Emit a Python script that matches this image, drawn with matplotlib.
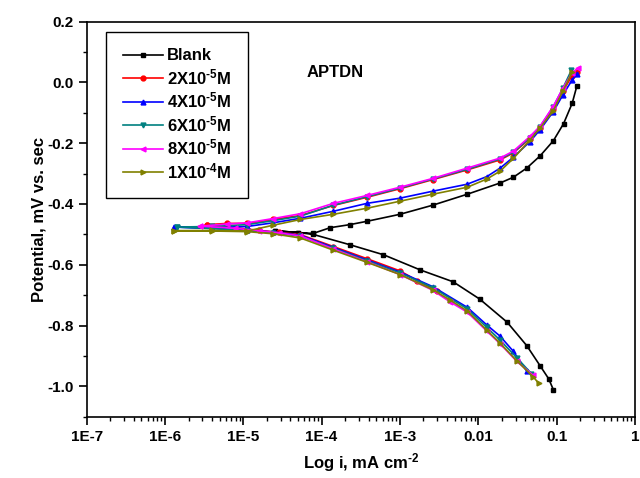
import matplotlib
matplotlib.use('Agg')
import matplotlib.pyplot as plt
import numpy as np
from matplotlib.ticker import MultipleLocator, FixedLocator, FixedFormatter, LogLocator, NullFormatter

plt.rcParams['font.family'] = ['Liberation Sans', 'DejaVu Sans']
plt.rcParams['font.weight'] = 'bold'
plt.rcParams['mathtext.fontset'] = 'custom'
plt.rcParams['mathtext.rm'] = 'Liberation Sans:bold'
plt.rcParams['mathtext.bf'] = 'Liberation Sans:bold'
plt.rcParams['mathtext.it'] = 'Liberation Sans:bold:italic'
plt.rcParams['mathtext.default'] = 'bf'

# --- Datos (log10 i, E) ---
# Blank
blank_an_log = [-4.60, -4.30, -4.11, -3.89, -3.64, -3.42, -3.00, -2.58, -2.14, -1.72, -1.55, -1.38, -1.21, -1.04, -0.91, -0.80, -0.74]
blank_an_E = [-0.488, -0.494, -0.497, -0.478, -0.468, -0.457, -0.434, -0.404, -0.368, -0.331, -0.312, -0.282, -0.242, -0.192, -0.136, -0.069, -0.012]
blank_ca_log = [-4.60, -4.30, -4.11, -3.64, -3.21, -2.74, -2.32, -1.98, -1.63, -1.38, -1.21, -1.10, -1.04]
blank_ca_E = [-0.488, -0.494, -0.500, -0.534, -0.567, -0.617, -0.656, -0.713, -0.789, -0.866, -0.932, -0.975, -1.011]

# 2X10-5 M
c2_an_log = [-5.46, -5.21, -4.95, -4.62, -4.27, -3.85, -3.42, -3.00, -2.58, -2.14, -1.72, -1.55, -1.34, -1.21, -1.04, -0.92, -0.80, -0.74]
c2_an_E = [-0.468, -0.464, -0.464, -0.451, -0.438, -0.405, -0.378, -0.350, -0.320, -0.288, -0.255, -0.232, -0.185, -0.150, -0.087, -0.030, 0.022, 0.035]
c2_ca_log = [-5.46, -5.10, -4.80, -4.55, -4.27, -3.85, -3.42, -3.00, -2.78, -2.53]
c2_ca_E = [-0.468, -0.478, -0.487, -0.493, -0.501, -0.540, -0.580, -0.620, -0.652, -0.686]

# 4X10-5 M
c4_an_log = [-5.89, -5.40, -4.95, -4.62, -4.27, -3.85, -3.42, -3.00, -2.58, -2.14, -1.89, -1.72, -1.55, -1.34, -1.21, -1.04, -0.92, -0.80, -0.74]
c4_an_E = [-0.476, -0.478, -0.474, -0.462, -0.447, -0.424, -0.398, -0.381, -0.358, -0.335, -0.310, -0.282, -0.246, -0.195, -0.156, -0.096, -0.042, 0.008, 0.028]
c4_ca_log = [-5.89, -5.40, -4.95, -4.62, -4.27, -3.85, -3.42, -3.00, -2.58, -2.14, -1.89, -1.72, -1.55, -1.38]
c4_ca_E = [-0.476, -0.480, -0.486, -0.492, -0.503, -0.543, -0.584, -0.624, -0.672, -0.740, -0.798, -0.835, -0.885, -0.950]

# 6X10-5 M
c6_an_log = [-5.85, -5.40, -4.95, -4.62, -4.27, -3.85, -3.42, -3.00, -2.58, -2.14, -1.72, -1.55, -1.34, -1.21, -1.04, -0.92, -0.81]
c6_an_E = [-0.476, -0.474, -0.468, -0.455, -0.440, -0.404, -0.376, -0.348, -0.318, -0.286, -0.252, -0.230, -0.182, -0.146, -0.080, -0.020, 0.040]
c6_ca_log = [-5.85, -5.40, -4.95, -4.62, -4.27, -3.85, -3.42, -3.00, -2.58, -2.14, -1.89, -1.72, -1.51, -1.32]
c6_ca_E = [-0.476, -0.481, -0.488, -0.495, -0.506, -0.546, -0.587, -0.627, -0.675, -0.745, -0.806, -0.848, -0.905, -0.958]

# 8X10-5 M
c8_an_log = [-5.55, -5.21, -4.95, -4.62, -4.27, -3.85, -3.42, -3.00, -2.58, -2.14, -1.72, -1.55, -1.34, -1.21, -1.04, -0.92, -0.80, -0.72]
c8_an_E = [-0.473, -0.466, -0.462, -0.448, -0.432, -0.398, -0.372, -0.345, -0.316, -0.282, -0.249, -0.226, -0.178, -0.144, -0.078, -0.020, 0.032, 0.048]
c8_ca_log = [-5.55, -5.10, -4.80, -4.55, -4.27, -3.85, -3.42, -3.00, -2.58, -2.36, -2.14, -1.89, -1.72, -1.51, -1.30]
c8_ca_E = [-0.473, -0.480, -0.488, -0.495, -0.505, -0.548, -0.590, -0.632, -0.684, -0.722, -0.756, -0.818, -0.860, -0.917, -0.963]

# 1X10-4 M
c10_an_log = [-5.89, -5.40, -4.95, -4.62, -4.27, -3.85, -3.42, -3.00, -2.58, -2.14, -1.89, -1.72, -1.55, -1.34, -1.21, -1.04, -0.92, -0.80]
c10_an_E = [-0.488, -0.487, -0.489, -0.470, -0.451, -0.434, -0.414, -0.391, -0.368, -0.345, -0.318, -0.292, -0.250, -0.190, -0.150, -0.093, -0.030, 0.034]
c10_ca_log = [-5.89, -5.40, -4.95, -4.62, -4.27, -3.85, -3.42, -3.00, -2.58, -2.36, -2.14, -1.89, -1.72, -1.51, -1.30, -1.23]
c10_ca_E = [-0.488, -0.489, -0.491, -0.498, -0.512, -0.552, -0.592, -0.632, -0.682, -0.716, -0.752, -0.815, -0.858, -0.915, -0.968, -0.989]

etiquetas = ['Blank', r'2X10$^{\text{-5}}$M', r'4X10$^{\text{-5}}$M', r'6X10$^{\text{-5}}$M',
             r'8X10$^{\text{-5}}$M', r'1X10$^{\text{-4}}$M']
colores = ['black', '#FF0000', '#0000FF', '#008080', '#FF00FF', '#808000']
marcadores = ['s', 'o', '^', 'v', '<', '>']

series = [
    (blank_an_log, blank_an_E, blank_ca_log, blank_ca_E),
    (c2_an_log, c2_an_E, c2_ca_log, c2_ca_E),
    (c4_an_log, c4_an_E, c4_ca_log, c4_ca_E),
    (c6_an_log, c6_an_E, c6_ca_log, c6_ca_E),
    (c8_an_log, c8_an_E, c8_ca_log, c8_ca_E),
    (c10_an_log, c10_an_E, c10_ca_log, c10_ca_E),
]

fig = plt.figure(figsize=(6.4, 4.78), dpi=100)
ax = fig.add_axes([0.1355, 0.128, 0.8564, 0.827])

for (a_log, a_E, c_log, c_E), lab, col, mk in zip(series, etiquetas, colores, marcadores):
    # rama catódica invertida + rama anódica
    x = np.concatenate([10.0 ** np.array(c_log)[::-1], 10.0 ** np.array(a_log)])
    y = np.concatenate([np.array(c_E)[::-1], np.array(a_E)])
    ax.plot(x, y, color=col, marker=mk, markersize=3.5, linewidth=1.2, label=lab)

ax.set_xscale('log')
ax.set_xlim(1e-7, 1)
ax.set_ylim(-1.1, 0.2)

xt = [1e-7, 1e-6, 1e-5, 1e-4, 1e-3, 1e-2, 1e-1, 1]
ax.xaxis.set_major_locator(FixedLocator(xt))
ax.xaxis.set_major_formatter(FixedFormatter(['1E-7', '1E-6', '1E-5', '1E-4', '1E-3', '0.01', '0.1', '1']))
ax.xaxis.set_minor_locator(LogLocator(base=10, subs=np.arange(2, 10), numticks=20))
ax.xaxis.set_minor_formatter(NullFormatter())

ax.yaxis.set_major_locator(MultipleLocator(0.2))
ax.yaxis.set_minor_locator(MultipleLocator(0.1))
ax.yaxis.set_major_formatter(plt.FuncFormatter(lambda v, p: f'{v:.1f}' if abs(v) > 1e-9 else '0.0'))

ax.tick_params(which='major', direction='out', length=6, width=1.2, labelsize=11)
ax.tick_params(which='minor', direction='out', length=3, width=1.0)
for s in ax.spines.values():
    s.set_linewidth(1.2)

ax.set_xlabel(r'Log i, mA cm$^{\text{-2}}$', fontsize=12, fontweight='bold', labelpad=5)
ax.set_ylabel('Potential, mV vs. sec', fontsize=12, fontweight='bold', labelpad=0.5)

ax.text(0.453, 0.87, 'APTDN', transform=ax.transAxes, ha='center', va='center',
        fontsize=12, fontweight='bold')

leg = ax.legend(loc='upper left', bbox_to_anchor=(0.035, 0.974), borderaxespad=0,
                frameon=True, fancybox=False, edgecolor='black', framealpha=1,
                handlelength=2.4, labelspacing=0.22, borderpad=1.0, handletextpad=0.28,
                prop={'weight': 'bold', 'size': 12})
leg.get_frame().set_linewidth(1.0)

fig.savefig('out.png', dpi=100)
